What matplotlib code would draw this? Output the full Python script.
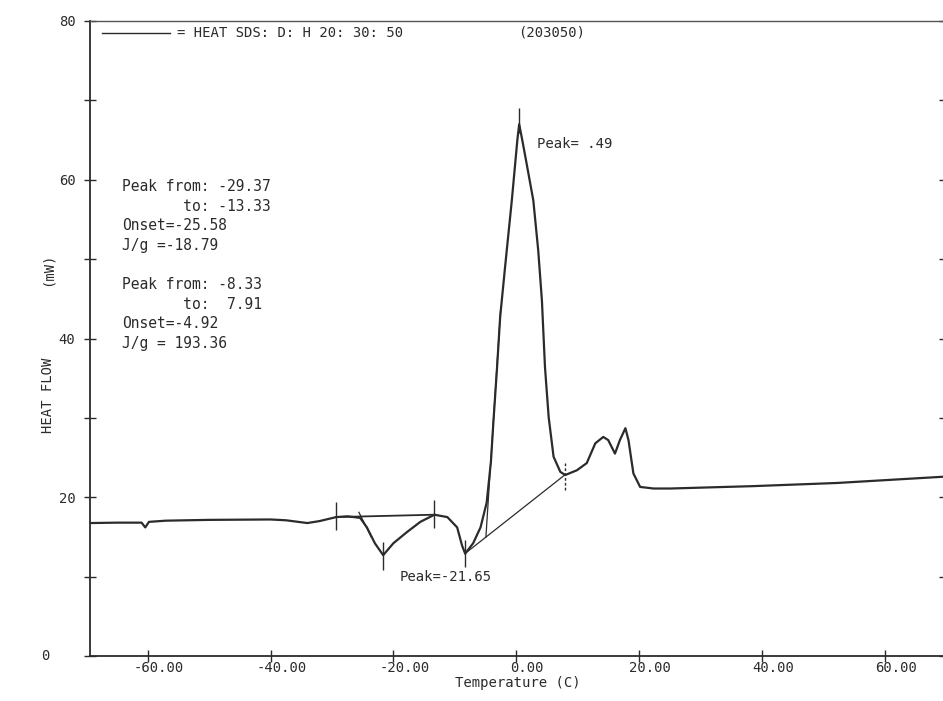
import matplotlib.pyplot as plt
from matplotlib.transforms import ScaledTranslation

# DSC heat flow trace
temperature = [-69.4, -65.0, -61.0, -60.4, -59.8, -57.0, -50.0, -40.0, -37.5, -35.5,
               -34.0, -32.0, -29.3, -27.5, -25.4, -24.3, -23.0, -21.65, -20.0, -17.8,
               -15.6, -13.3, -11.2, -9.6, -8.8, -8.3, -7.0, -5.8, -4.8, -4.1,
               -3.7, -3.1, -2.6, -1.8, -0.7, 0.2, 0.5, 1.0, 1.6, 2.8,
               3.6, 4.2, 4.7, 5.3, 6.1, 7.2, 8.0, 9.9, 11.5, 12.9,
               14.2, 15.0, 16.1, 16.9, 17.8, 18.3, 19.1, 20.2, 22.4, 25.1,
               38.6, 52.3, 69.9]
heat_flow = [16.75, 16.8, 16.8, 16.2, 16.9, 17.05, 17.15, 17.2, 17.1, 16.9,
             16.75, 17.0, 17.5, 17.6, 17.4, 16.2, 14.2, 12.7, 14.2, 15.6,
             16.9, 17.8, 17.5, 16.2, 13.9, 12.9, 14.2, 16.2, 19.3, 24.5,
             29.5, 36.4, 42.7, 49.0, 57.4, 65.0, 67.0, 65.0, 62.5, 57.4,
             51.1, 44.8, 36.4, 30.1, 25.1, 23.2, 22.8, 23.4, 24.3, 26.8,
             27.6, 27.2, 25.5, 27.2, 28.7, 27.2, 23.0, 21.3, 21.1, 21.1,
             21.4, 21.8, 22.6]

# peak integration lines
baseline1_t = [-29.37, -13.33]
baseline1_h = [17.5, 17.8]
tangent1_t = [-25.6, -23.6]
tangent1_h = [18.1, 15.0]
baseline2_t = [-8.33, 7.91]
baseline2_h = [12.9, 22.8]
tangent2_t = [-4.92, -2.5]
tangent2_h = [15.0, 44.0]

# small vertical markers (limits, peaks)
marker_t = [-29.37, -13.33, -21.65, -8.33, 7.91, 0.49]
marker_lo = [15.9, 16.1, 10.8, 11.2, 20.9, 65.9]
marker_hi = [19.4, 19.6, 14.4, 14.6, 24.3, 69.1]

xticks = [-60, -40, -20, 0, 20, 40, 60]
xtick_labels = ['-60.00', '-40.00', '-20.00', '0.00', '20.00', '40.00', '60.00']
yticks = [0, 20, 40, 60, 80]
ytick_labels = ['', '20', '40', '60', '80']
yminor = [10, 30, 50, 70]

info_lines = ['Peak from: -29.37', '       to: -13.33', 'Onset=-25.58', 'J/g =-18.79', '',
              'Peak from: -8.33', '       to:  7.91', 'Onset=-4.92', 'J/g = 193.36']

ink = '#2b2b2b'
mono = 'DejaVu Sans Mono'

W, H = 943, 701
fig = plt.figure(figsize=(W / 100, H / 100), dpi=100)
ax = fig.add_axes([90 / W, 45 / H, 855 / W, 635 / H])

ax.plot(temperature, heat_flow, color=ink, lw=1.6)
ax.plot(baseline1_t, baseline1_h, color=ink, lw=1.3)
ax.plot(tangent1_t, tangent1_h, color=ink, lw=0.9)
ax.plot(baseline2_t, baseline2_h, color=ink, lw=0.9)
ax.plot(tangent2_t, tangent2_h, color=ink, lw=0.9)
ax.vlines(marker_t, marker_lo, marker_hi, color=ink, lw=1.0,
          linestyles=['solid', 'solid', 'solid', 'solid', (0, (2, 1.5)), 'solid'])

ax.set_xlim(-69.4, 69.85)
ax.set_ylim(0, 80)

ax.set_xticks(xticks)
ax.set_xticklabels(xtick_labels, fontfamily=mono, fontsize=10, color=ink)
ax.set_yticks(yticks)
ax.set_yticklabels(ytick_labels, fontfamily=mono, fontsize=10, color=ink)
ax.set_yticks(yminor, minor=True)
ax.tick_params(axis='x', direction='inout', length=9, width=1, pad=-1, colors=ink)
ax.tick_params(axis='y', which='both', direction='inout', length=9, width=1,
               right=True, pad=6, colors=ink)

# labels sit slightly right of their ticks on the plotter output
shift = ScaledTranslation(8 / 72, 0, fig.dpi_scale_trans)
for lab in ax.get_xticklabels():
    lab.set_transform(lab.get_transform() + shift)

for side in ['left', 'bottom']:
    ax.spines[side].set_linewidth(1.3)
    ax.spines[side].set_color(ink)
ax.spines['top'].set_linewidth(1.0)
ax.spines['top'].set_color('#555555')
ax.spines['right'].set_visible(False)

ax.text(-76.0, 0, '0', ha='right', va='center', fontfamily=mono, fontsize=10, color=ink,
        clip_on=False)

# legend line at the top
ax.plot([-67.4, -56.4], [78.5, 78.5], color=ink, lw=1.0)
ax.text(-55.2, 78.5, '= HEAT SDS: D: H 20: 30: 50', va='center', fontfamily=mono,
        fontsize=10, color=ink)
ax.text(0.4, 78.5, '(203050)', va='center', fontfamily=mono, fontsize=10, color=ink)

# integration results
y0 = 59.1
for i, line in enumerate(info_lines):
    ax.text(-64.2, y0 - i * 2.46, line, va='center', fontfamily=mono, fontsize=10.5,
            color=ink)

ax.text(3.4, 64.5, 'Peak= .49', va='center', fontfamily=mono, fontsize=10, color=ink)
ax.text(-18.9, 9.95, 'Peak=-21.65', va='center', fontfamily=mono, fontsize=10, color=ink)

fig.text(518 / W, 1 - 683 / H, 'Temperature (C)', ha='center', va='center',
         fontfamily=mono, fontsize=10, color=ink)
fig.text(48 / W, 1 - 395 / H, 'HEAT FLOW', rotation=90, ha='center', va='center',
         fontfamily=mono, fontsize=10, color=ink)
fig.text(48 / W, 1 - 269 / H, '(mW)', rotation=90, ha='center', va='center',
         fontfamily=mono, fontsize=10, color=ink)

fig.savefig('out.png', dpi=100)
